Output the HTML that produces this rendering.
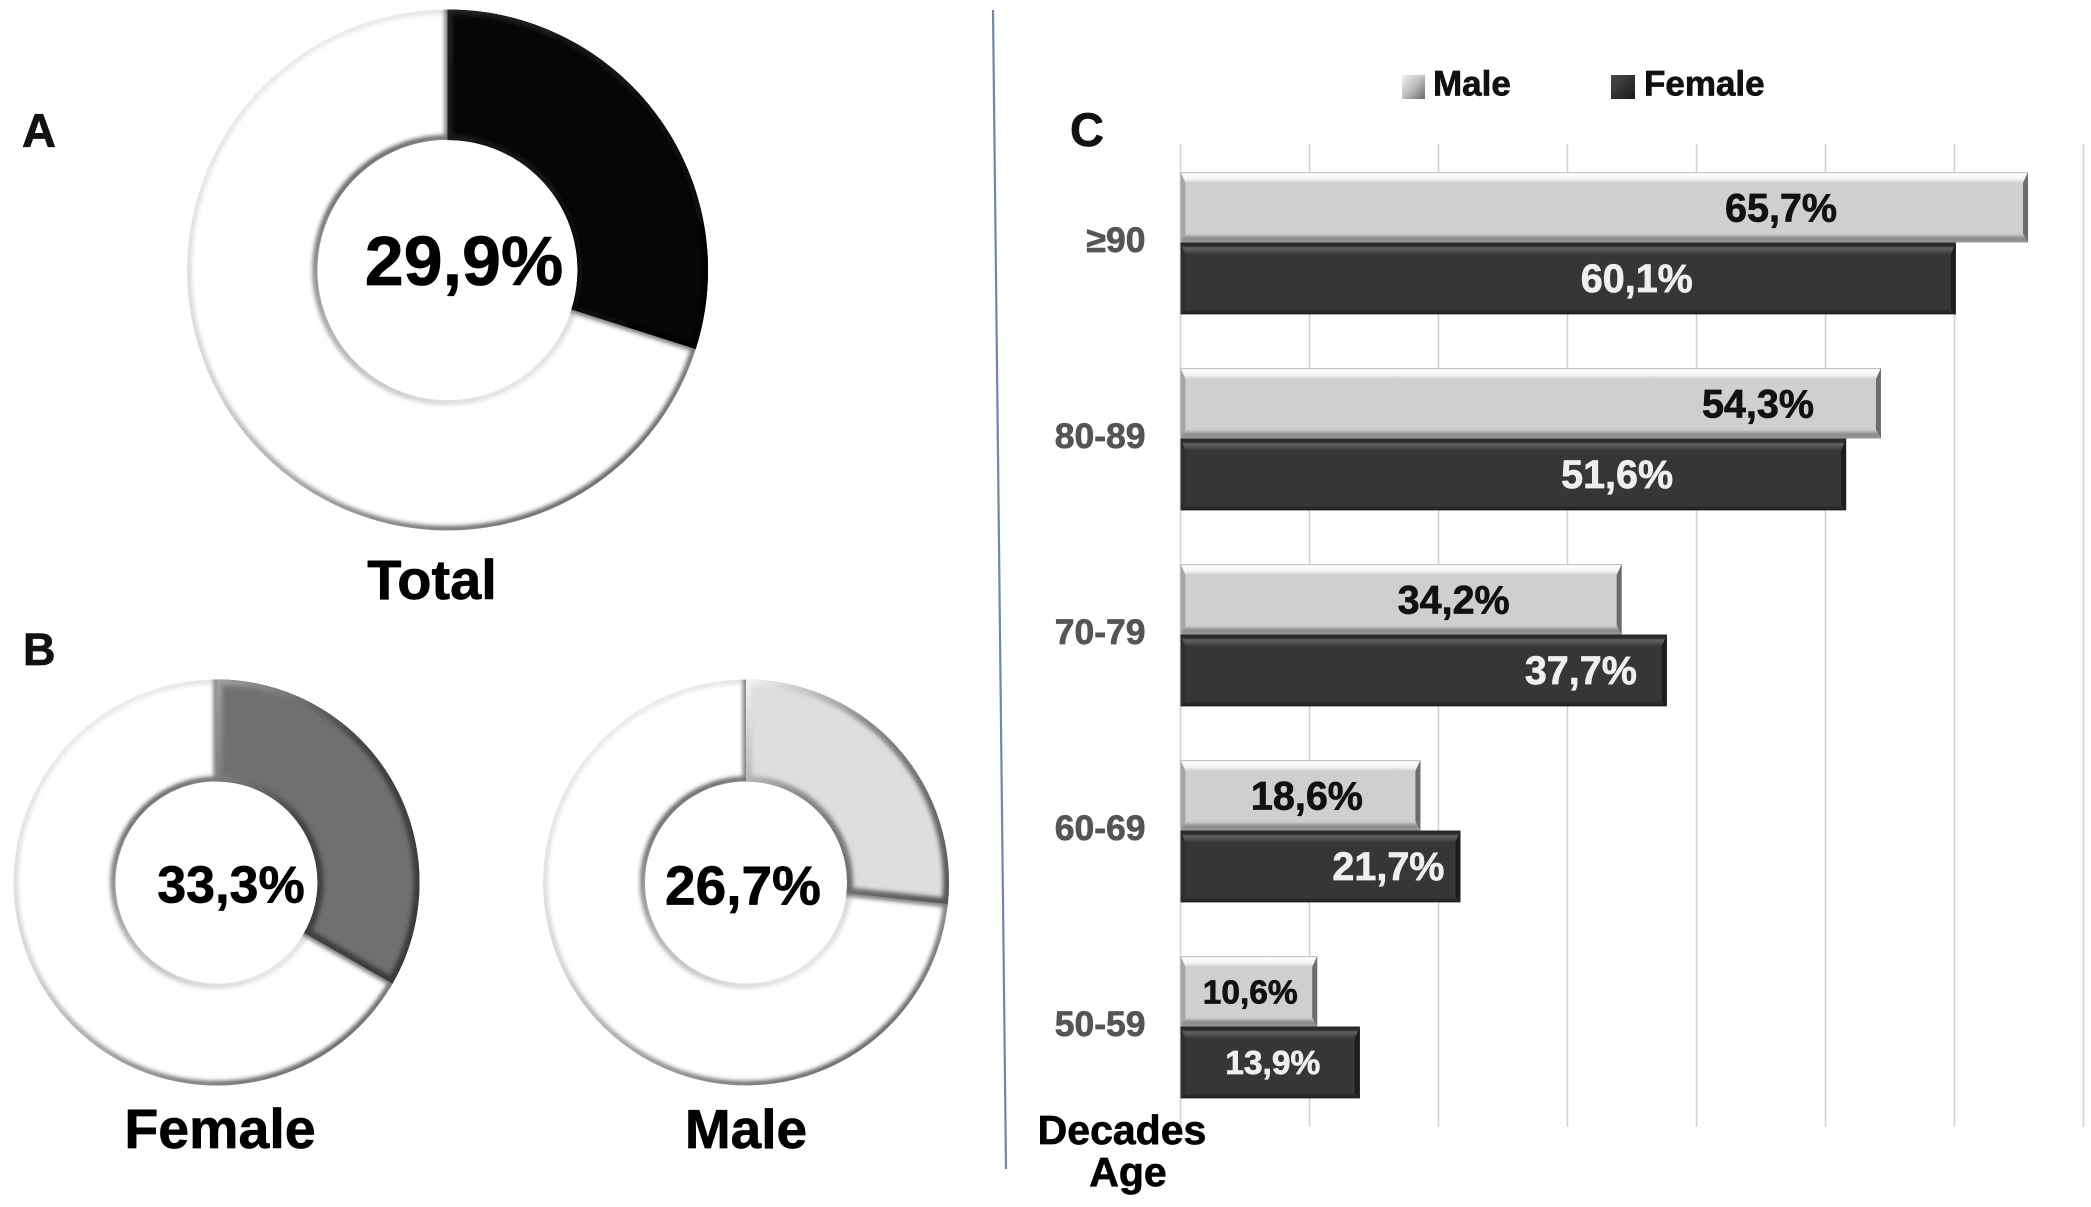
<!DOCTYPE html>
<html lang="en">
<head>
<meta charset="utf-8">
<title>Prevalence charts: total, by sex and by age decade</title>
<style>
html,body{margin:0;padding:0;background:#fff;}
body{width:2091px;height:1207px;overflow:hidden;}
svg{display:block;}
text{font-family:"Liberation Sans",sans-serif;font-weight:bold;stroke-width:0.7px;stroke-linejoin:round;}
</style>
</head>
<body>
<svg id="figure" xmlns="http://www.w3.org/2000/svg" width="2091" height="1207" viewBox="0 0 2091 1207">
  <defs>
    <filter id="blur1" x="-10%" y="-10%" width="120%" height="120%"><feGaussianBlur stdDeviation="2.2"/></filter>
    <linearGradient id="outerRim" x1="0.1" y1="0" x2="0.8" y2="1">
      <stop offset="0" stop-color="#f0f0f0"/><stop offset="0.45" stop-color="#cfcfcf"/><stop offset="0.8" stop-color="#777"/><stop offset="1" stop-color="#4a4a4a"/>
    </linearGradient>
    <linearGradient id="innerRim" x1="0.1" y1="0" x2="0.8" y2="1">
      <stop offset="0" stop-color="#444"/><stop offset="0.5" stop-color="#aaa"/><stop offset="1" stop-color="#eaeaea"/>
    </linearGradient>
    <linearGradient id="maleTop" x1="0" y1="0" x2="0" y2="1">
      <stop offset="0" stop-color="#a8a8a8"/><stop offset="0.15" stop-color="#ffffff"/><stop offset="0.65" stop-color="#f4f4f4"/><stop offset="1" stop-color="#d0cece"/>
    </linearGradient>
    <linearGradient id="maleBottom" x1="0" y1="0" x2="0" y2="1">
      <stop offset="0" stop-color="#d0cece"/><stop offset="0.55" stop-color="#8a8a8a"/><stop offset="1" stop-color="#9a9a9a"/>
    </linearGradient>
    <linearGradient id="femaleTop" x1="0" y1="0" x2="0" y2="1">
      <stop offset="0" stop-color="#2a2a2a"/><stop offset="0.3" stop-color="#2c2c2c"/><stop offset="0.45" stop-color="#626262"/><stop offset="1" stop-color="#383838"/>
    </linearGradient>
    <linearGradient id="femaleBottom" x1="0" y1="0" x2="0" y2="1">
      <stop offset="0" stop-color="#363636"/><stop offset="1" stop-color="#1c1c1c"/>
    </linearGradient>
    <linearGradient id="legendMaleFill" x1="0" y1="0" x2="1" y2="1">
      <stop offset="0" stop-color="#f2f2f2"/><stop offset="0.5" stop-color="#bdbdbd"/><stop offset="1" stop-color="#6a6a6a"/>
    </linearGradient>
    <linearGradient id="legendFemaleFill" x1="0" y1="0" x2="1" y2="1">
      <stop offset="0" stop-color="#4a4a4a"/><stop offset="0.5" stop-color="#333"/><stop offset="1" stop-color="#1a1a1a"/>
    </linearGradient>
    <linearGradient id="bevelTotal" x1="0" y1="0" x2="1" y2="1">
      <stop offset="0" stop-color="#222"/><stop offset="1" stop-color="#000"/>
    </linearGradient>
    <linearGradient id="bevelFemale" x1="0" y1="0" x2="1" y2="1">
      <stop offset="0" stop-color="#a0a0a0"/><stop offset="0.45" stop-color="#444"/><stop offset="1" stop-color="#383838"/>
    </linearGradient>
    <linearGradient id="bevelMale" x1="0" y1="0" x2="1" y2="1">
      <stop offset="0" stop-color="#f4f4f4"/><stop offset="0.4" stop-color="#888"/><stop offset="1" stop-color="#555"/>
    </linearGradient>
  </defs>

  <rect width="2091" height="1207" fill="#fff"/>
  <line x1="993" y1="10" x2="1006" y2="1169" stroke="#7486ad" stroke-width="2.2"/>

  <g id="donuts"></g>
  <g id="barchart"></g>

  <text x="22" y="147" font-size="47" fill="#111">A</text>
  <text x="23" y="665" font-size="45" fill="#111">B</text>
  <text x="1070" y="146" font-size="47" fill="#111">C</text>

  <g>
    <g>
      <rect x="1402" y="75" width="23" height="24" fill="url(#legendMaleFill)"/>
      <text x="1433" y="95.5" font-size="35" fill="#111">Male</text>
    </g>
    <g>
      <rect x="1611" y="75" width="24" height="24" fill="url(#legendFemaleFill)"/>
      <text x="1644" y="95.5" font-size="35" fill="#111">Female</text>
    </g>
  </g>

  <text x="1122" y="1144" font-size="41" fill="#000" text-anchor="middle">Decades</text>
  <text x="1128" y="1186" font-size="41" fill="#000" text-anchor="middle">Age</text>
</svg>

<script>
// ---------- donut data ----------
const donutNames = ['Total', 'Female', 'Male'];
const donutValues = [29.9, 33.3, 26.7];

// ---------- bar chart data ----------
const categories = ['≥90', '80-89', '70-79', '60-69', '50-59'];
const maleValues = [65.7, 54.3, 34.2, 18.6, 10.6];
const femaleValues = [60.1, 51.6, 37.7, 21.7, 13.9];
const axisTicks = [0, 10, 20, 30, 40, 50, 60, 70];

// ---------- layout (not data) ----------
const donutLayout = [
  {cx: 447.5, cy: 270, R: 260.5, r: 130, fill: '#060606', bevel: 'url(#bevelTotal)', bw: 5, textSize: 70, textX: 464, textY: 285, nameSize: 56, nameX: 432, nameY: 599},
  {cx: 216.5, cy: 882.5, R: 203, r: 101, fill: '#707070', bevel: 'url(#bevelFemale)', bw: 6, textSize: 52, textX: 231, textY: 902.5, nameSize: 55.5, nameX: 220, nameY: 1148},
  {cx: 746, cy: 882.5, R: 203, r: 101, fill: '#dedede', bevel: 'url(#bevelMale)', bw: 6, textSize: 55, textX: 743, textY: 904.5, nameSize: 55, nameX: 746, nameY: 1148}
];
const maleLabelInset = [247, 123, 168, 113.5, 67];
const femaleLabelInset = [319, 229, 86, 72, 87];
const plotLeft = 1180.5;
const pxPerPercent = 12.9;
const plotTop = 143.5;
const plotBottom = 1127;
const bandTop = 172;
const bandStep = 196;
const maleBarHeight = 70.5;
const femaleBarHeight = 71.8;

const SVGNS = 'http://www.w3.org/2000/svg';

function make(parent, tag, attrs, name) {
  const el = document.createElementNS(SVGNS, tag);
  for (const k in attrs) el.setAttribute(k, attrs[k]);
  
  
  parent.appendChild(el);
  return el;
}

function fmt(v) {
  return v.toFixed(1).replace('.', ',') + '%';
}

function polar(cx, cy, rad, deg) {
  const a = (deg - 90) * Math.PI / 180;
  return [cx + rad * Math.cos(a), cy + rad * Math.sin(a)];
}

function wedgePath(cx, cy, R, r, deg) {
  const p1 = polar(cx, cy, R, 0);
  const p2 = polar(cx, cy, R, deg);
  const p3 = polar(cx, cy, r, deg);
  const p4 = polar(cx, cy, r, 0);
  const large = deg > 180 ? 1 : 0;
  return 'M' + p1[0] + ' ' + p1[1] + 'A' + R + ' ' + R + ' 0 ' + large + ' 1 ' + p2[0] + ' ' + p2[1] +
    'L' + p3[0] + ' ' + p3[1] + 'A' + r + ' ' + r + ' 0 ' + large + ' 0 ' + p4[0] + ' ' + p4[1] + 'Z';
}

function ringPath(cx, cy, R, r) {
  return 'M' + (cx - R) + ' ' + cy + 'A' + R + ' ' + R + ' 0 1 1 ' + (cx + R) + ' ' + cy + 'A' + R + ' ' + R + ' 0 1 1 ' + (cx - R) + ' ' + cy + 'Z' +
    'M' + (cx - r) + ' ' + cy + 'A' + r + ' ' + r + ' 0 1 0 ' + (cx + r) + ' ' + cy + 'A' + r + ' ' + r + ' 0 1 0 ' + (cx - r) + ' ' + cy + 'Z';
}

const defs = document.querySelector('#figure defs');
const donutRoot = document.getElementById('donuts');

donutNames.forEach(function (name, i) {
  const L = donutLayout[i];
  const deg = donutValues[i] / 100 * 360;
  const key = name.toLowerCase();
  const g = make(donutRoot, 'g', {}, 'donut-' + key);
  const ring = ringPath(L.cx, L.cy, L.R, L.r);
  const wedge = wedgePath(L.cx, L.cy, L.R, L.r, deg);

  const ringClip = make(defs, 'clipPath', {id: 'ringClip' + i}, 'ring-clip-' + key);
  make(ringClip, 'path', {d: ring, 'clip-rule': 'evenodd'}, 'ring-clip-shape-' + key);
  const wedgeClip = make(defs, 'clipPath', {id: 'wedgeClip' + i}, 'wedge-clip-' + key);
  make(wedgeClip, 'path', {d: wedge}, 'wedge-clip-shape-' + key);

  make(g, 'path', {d: ring, 'fill-rule': 'evenodd', fill: '#fff'}, 'donut-remainder-' + key);

  const shade = make(g, 'g', {'clip-path': 'url(#ringClip' + i + ')'}, 'donut-rim-shading-' + key);
  make(shade, 'circle', {cx: L.cx, cy: L.cy, r: L.R - 1.5, fill: 'none', stroke: 'url(#outerRim)', 'stroke-width': 6, filter: 'url(#blur1)'}, 'outer-rim-' + key);
  make(shade, 'circle', {cx: L.cx, cy: L.cy, r: L.r + 2, fill: 'none', stroke: 'url(#innerRim)', 'stroke-width': 6, filter: 'url(#blur1)'}, 'inner-rim-' + key);
  make(shade, 'path', {d: wedge, fill: 'none', stroke: '#777', 'stroke-width': 6, filter: 'url(#blur1)'}, 'wedge-shadow-' + key);

  make(g, 'path', {d: wedge, fill: L.fill}, 'donut-slice-' + key);
  const bevel = make(g, 'g', {'clip-path': 'url(#wedgeClip' + i + ')'}, 'slice-bevel-' + key);
  make(bevel, 'path', {d: wedge, fill: 'none', stroke: L.bevel, 'stroke-width': L.bw * 2, filter: 'url(#blur1)'}, 'slice-bevel-stroke-' + key);

  const value = make(g, 'text', {x: L.textX, y: L.textY, 'font-size': L.textSize, fill: '#000', 'text-anchor': 'middle'}, 'donut-value-' + key);
  value.textContent = fmt(donutValues[i]);
  const title = make(g, 'text', {x: L.nameX, y: L.nameY, 'font-size': L.nameSize, fill: '#000', 'text-anchor': 'middle'}, 'donut-title-' + key);
  title.textContent = name;
});

// ---------- bar chart ----------
function xScale(v) {
  return plotLeft + v * pxPerPercent;
}
function bandY(i) {
  return bandTop + i * bandStep;
}

const barRoot = document.getElementById('barchart');
const gridG = make(barRoot, 'g', {}, 'x-gridlines');
axisTicks.forEach(function (t) {
  const x = xScale(t);
  make(gridG, 'line', {x1: x, y1: plotTop, x2: x, y2: plotBottom, stroke: '#d2d2d2', 'stroke-width': 1.6}, 'gridline-' + t);
});

function poly(parent, pts, fill, name) {
  make(parent, 'polygon', {points: pts.map(function (p) { return p.join(','); }).join(' '), fill: fill}, name);
}

function drawBar(parent, sex, value, y, inset) {
  const x0 = plotLeft;
  const x1 = xScale(value);
  const male = sex === 'male';
  const h = male ? maleBarHeight : femaleBarHeight;
  const g = make(parent, 'g', {}, 'bar-' + sex + '-' + value);
  make(g, 'rect', {x: x0, y: y, width: x1 - x0, height: h, fill: male ? '#d0cece' : '#363636'}, 'bar-body');
  const topH = male ? 11 : 12;
  const botH = male ? 9 : 5;
  const sideW = 5;
  poly(g, [[x0, y], [x1, y], [x1 - sideW, y + topH], [x0 + sideW, y + topH]], male ? 'url(#maleTop)' : 'url(#femaleTop)', 'bar-bevel-top');
  poly(g, [[x0 + sideW, y + h - botH], [x1 - sideW, y + h - botH], [x1, y + h], [x0, y + h]], male ? 'url(#maleBottom)' : 'url(#femaleBottom)', 'bar-bevel-bottom');
  poly(g, [[x0, y], [x0 + sideW, y + topH], [x0 + sideW, y + h - botH], [x0, y + h]], male ? '#a6a6a6' : '#303030', 'bar-bevel-left');
  poly(g, [[x1, y], [x1 - sideW, y + topH], [x1 - sideW, y + h - botH], [x1, y + h]], male ? '#6c6c6c' : '#1c1c1c', 'bar-bevel-right');
  const size = value < 15 ? 33.5 : 39.5;
  const label = make(g, 'text', {x: x1 - inset, y: y + 35.5 + size * 0.36, 'font-size': size, fill: male ? '#111' : '#efefef', 'text-anchor': 'middle'}, 'bar-value-label');
  label.textContent = fmt(value);
}

categories.forEach(function (cat, i) {
  const y = bandY(i);
  const g = make(barRoot, 'g', {}, 'category-' + cat);
  drawBar(g, 'male', maleValues[i], y, maleLabelInset[i]);
  drawBar(g, 'female', femaleValues[i], y + maleBarHeight, femaleLabelInset[i]);
  const t = make(g, 'text', {x: 1145.5, y: y + 80, 'font-size': 35.5, fill: '#555', 'text-anchor': 'end'}, 'y-axis-label');
  t.textContent = cat;
});

// Match the heavier glyph weight of the source figure
document.querySelectorAll('#figure text').forEach(function (t) {
  t.setAttribute('stroke', t.getAttribute('fill'));
});
</script>
</body>
</html>
